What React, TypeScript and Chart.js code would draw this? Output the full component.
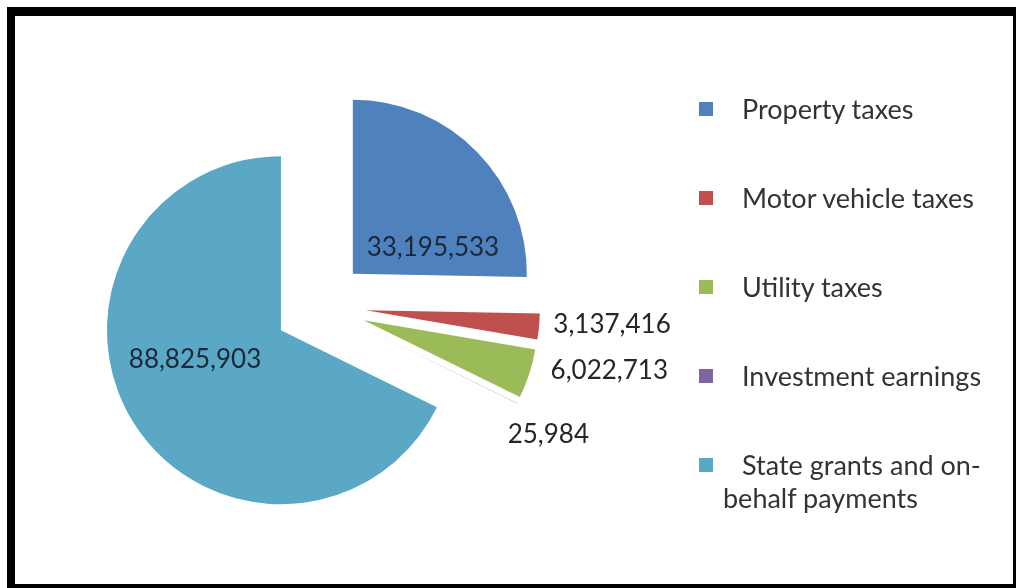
import React, { useEffect, useRef } from "react";
import { Chart, registerables } from "chart.js";

Chart.register(...registerables);

// ---- data ----
const categories: string[] = [
  "Property taxes",
  "Motor vehicle taxes",
  "Utility taxes",
  "Investment earnings",
  "State grants and on-behalf payments",
];
const values: number[] = [33195533, 3137416, 6022713, 25984, 88825903];
const legendLines: string[][] = [
  ["Property taxes"],
  ["Motor vehicle taxes"],
  ["Utility taxes"],
  ["Investment earnings"],
  ["State grants and on-", "behalf payments"],
];

// ---- styles / layout ----
const colors = ["#4F81BD", "#C0504D", "#9BBB59", "#8064A2", "#5AA8C5"];
const labelColors = ["#1c2738", "#262626", "#262626", "#262626", "#1c2738"];
const EXPLODE = 46;
const RADIUS = 174;
const FONT = "Lato, 'Noto Sans', sans-serif";
const FONT_SIZE = 26;
const LEGEND_FONT_SIZE = 27;
// label anchor: fraction of radius along bisector from the slice apex, plus a nudge
const labelRadial = [0.5, 1, 1, 1, 0.5];
const labelNudge: [number, number][] = [
  [18, 34],
  [73, -3],
  [80, -4],
  [31, 30],
  [-12, -18],
];

const fmt = (v: number) => v.toLocaleString("en-US");

const explodePlugin = {
  id: "explodeSlices",
  afterDatasetsUpdate(chart: any) {
    const meta = chart.getDatasetMeta(0);
    meta.data.forEach((arc: any) => {
      const mid = (arc.startAngle + arc.endAngle) / 2;
      arc.x += EXPLODE * Math.cos(mid);
      arc.y += EXPLODE * Math.sin(mid);
    });
  },
};

const valueLabelPlugin = {
  id: "valueLabels",
  afterDatasetsDraw(chart: any) {
    const ctx = chart.ctx as CanvasRenderingContext2D;
    const meta = chart.getDatasetMeta(0);
    const data = chart.data.datasets[0].data as number[];
    ctx.save();
    ctx.font = `${FONT_SIZE}px ${FONT}`;
    ctx.textAlign = "center";
    ctx.textBaseline = "alphabetic";
    meta.data.forEach((arc: any, i: number) => {
      const mid = (arc.startAngle + arc.endAngle) / 2;
      const r = arc.outerRadius * labelRadial[i];
      const x = arc.x + Math.cos(mid) * r + labelNudge[i][0];
      const y = arc.y + Math.sin(mid) * r + labelNudge[i][1];
      ctx.fillStyle = labelColors[i];
      ctx.fillText(fmt(data[i]), x, y + FONT_SIZE * 0.36);
    });
    ctx.restore();
  },
};

export default function App() {
  const canvasRef = useRef<HTMLCanvasElement | null>(null);

  useEffect(() => {
    if (!canvasRef.current) return;
    const chart = new Chart(canvasRef.current, {
      type: "pie",
      data: {
        labels: categories,
        datasets: [
          {
            data: values,
            backgroundColor: colors,
            borderWidth: 0,
            radius: RADIUS,
          } as any,
        ],
      },
      options: {
        animation: false,
        responsive: true,
        maintainAspectRatio: false,
        radius: RADIUS,
        events: [],
        layout: { padding: { left: 0, right: 388, top: 12, bottom: 0 } },
        plugins: {
          legend: { display: false },
          tooltip: { enabled: false },
        },
      } as any,
      plugins: [explodePlugin, valueLabelPlugin],
    });
    return () => chart.destroy();
  }, []);

  return (
    <div
      style={{
        position: "fixed",
        left: 0,
        top: 0,
        width: 1016,
        height: 588,
        background: "#fff",
        overflow: "hidden",
      }}
    >
      <div
        style={{
          position: "absolute",
          left: 7,
          top: 7,
          width: 1009,
          height: 581,
          boxSizing: "border-box",
          borderStyle: "solid",
          borderColor: "#000",
          borderWidth: "9px 3px 4px 8px",
        }}
      />
      <div
        style={{
          position: "absolute",
          left: 15,
          top: 16,
          width: 998,
          height: 568,
        }}
      >
        <canvas ref={canvasRef} />
      </div>
      {legendLines.map((lines, i) => {
        const center = 109 + i * 89;
        return (
          <React.Fragment key={categories[i]}>
            <div
              style={{
                position: "absolute",
                left: 699,
                top: center - 7,
                width: 14,
                height: 14,
                background: colors[i],
              }}
            />
            {lines.map((t, j) => (
              <div
                key={t}
                style={{
                  position: "absolute",
                  left: j === 0 ? 742 : 723,
                  top: center - 17 + j * 33,
                  height: 34,
                  lineHeight: "34px",
                  fontFamily: FONT,
                  fontSize: LEGEND_FONT_SIZE,
                  color: "#333",
                  whiteSpace: "nowrap",
                }}
              >
                {t}
              </div>
            ))}
          </React.Fragment>
        );
      })}
    </div>
  );
}
